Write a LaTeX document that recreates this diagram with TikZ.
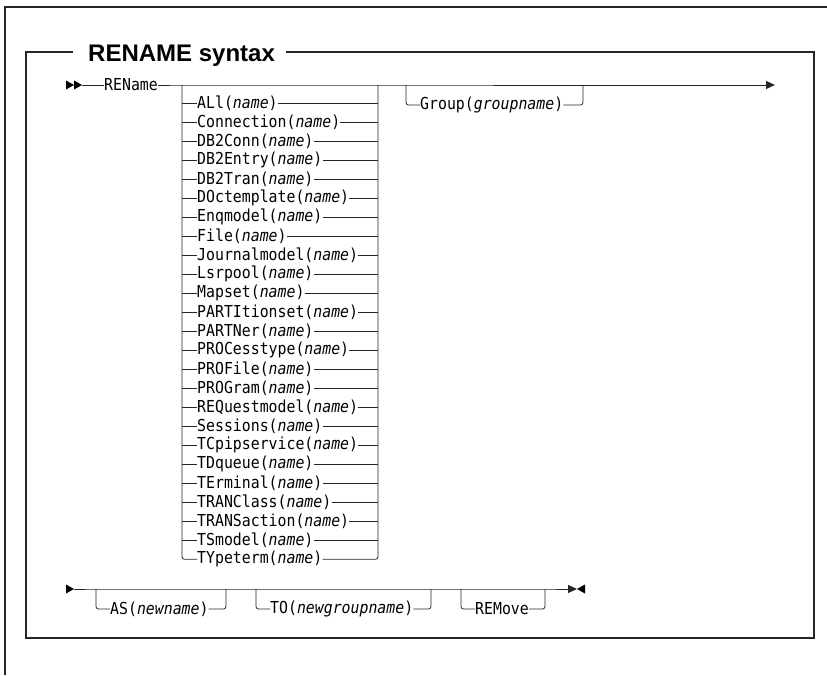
\documentclass[tikz,border=0pt]{standalone}
\usepackage{fontspec}
\setmonofont{DejaVu Sans Mono}[ItalicFont={DejaVu Sans Mono Oblique},FakeStretch=0.9]
\setsansfont{Liberation Sans}
\usetikzlibrary{arrows.meta,positioning}
\tikzset{
  wire/.style={black!85, line width=0.8pt},
  branch/.style={wire, rounded corners=2.5pt},
  frame/.style={black!85, line width=1.5pt},
  kw/.style={font=\fontsize{16.5}{16.5}\selectfont\ttfamily,
             inner sep=0pt, anchor=west},
  headline/.style={font=\fontsize{24}{24}\selectfont\sffamily\bfseries,
                   inner sep=0pt, anchor=west},
  endtip/.style={-{Triangle[length=9pt,width=8pt]}},
  headtri/.pic={\fill[black] (-8,-4.5) -- (0,0) -- (-8,4.5) -- cycle;},
}
\newcommand{\nm}[1]{\textit{#1}}

\begin{document}
\begin{tikzpicture}[x=1pt,y=-1pt]
  \path[use as bounding box] (0,0) rectangle (827,675);

  % page frame and syntax box
  \draw[frame] (5,675) |- (827,7);
  \node[headline] (title) at (88,56) {RENAME syntax};
  \coordinate (box-l) at (73,52);
  \coordinate (box-r) at (286,52);
  \coordinate (box-nw) at (26,52);
  \coordinate (box-se) at (814,638);
  \draw[frame] (box-l) -- (box-nw) |- (box-se) |- (box-r);

  % first line
  \pic at (74,85) {headtri};
  \pic at (82,85) {headtri};
  \coordinate (begin) at (82,85);
  \node[kw] (rename) at (104,85) {REName};
  \coordinate (stk-in) at (182,85);
  \coordinate (stk-out) at (378,85);
  \coordinate (grp-in) at (406,85);
  \coordinate (grp-out) at (583,85);
  \coordinate (finish) at (775,85);
  \draw[wire] (begin) -- (rename.west);
  \draw[wire] (rename.east) -- (stk-in) -- (stk-out) -- (grp-in) -- (grp-out);
  \draw[wire, endtip] (grp-out) -- (finish);

  % resource types
  \foreach \k/\res in {1/ALl, 2/Connection, 3/DB2Conn, 4/DB2Entry, 5/DB2Tran,
      6/DOctemplate, 7/Enqmodel, 8/File, 9/Journalmodel, 10/Lsrpool,
      11/Mapset, 12/PARTItionset, 13/PARTNer, 14/PROCesstype, 15/PROFile,
      16/PROGram, 17/REQuestmodel, 18/Sessions, 19/TCpipservice, 20/TDqueue,
      21/TErminal, 22/TRANClass, 23/TRANSaction, 24/TSmodel, 25/TYpeterm}
    {\pgfmathsetmacro{\yy}{103.3+19*(\k-1)}
     \node[kw] (op\k) at (197,\yy) {\res(\nm{name})};
     \coordinate (l\k) at (182,\yy);
     \coordinate (r\k) at (378,\yy);}
  \foreach \k in {1,...,24}
    {\draw[wire] (l\k) -- (op\k.west);
     \draw[wire] (op\k.east) -- (r\k);}
  \draw[branch] (stk-in) |- (op25.west);
  \draw[branch] (op25.east) -| (stk-out);

  % group
  \node[kw] (grp) at (420,105) {Group(\nm{groupname})};
  \draw[branch] (grp-in) |- (grp.west);
  \draw[branch] (grp.east) -| (grp-out);

  % second line
  \pic at (74,589) {headtri};
  \coordinate (cont) at (74,589);
  \coordinate (as-in) at (96,589);
  \coordinate (as-out) at (226,589);
  \coordinate (to-in) at (256,589);
  \coordinate (to-out) at (431,589);
  \coordinate (rem-in) at (461,589);
  \coordinate (rem-out) at (545,589);
  \coordinate (stop) at (577,589);
  \node[kw] (as) at (110,609) {AS(\nm{newname})};
  \node[kw] (to) at (270,609) {TO(\nm{newgroupname})};
  \node[kw] (rem) at (475,609) {REMove};
  \draw[wire, endtip] (cont) -- (as-in) -- (as-out) -- (to-in) -- (to-out)
    -- (rem-in) -- (rem-out) -- (stop);
  \pic[rotate=180] at (577,589) {headtri};
  \draw[branch] (as-in) |- (as.west);
  \draw[branch] (as.east) -| (as-out);
  \draw[branch] (to-in) |- (to.west);
  \draw[branch] (to.east) -| (to-out);
  \draw[branch] (rem-in) |- (rem.west);
  \draw[branch] (rem.east) -| (rem-out);
\end{tikzpicture}
\end{document}
